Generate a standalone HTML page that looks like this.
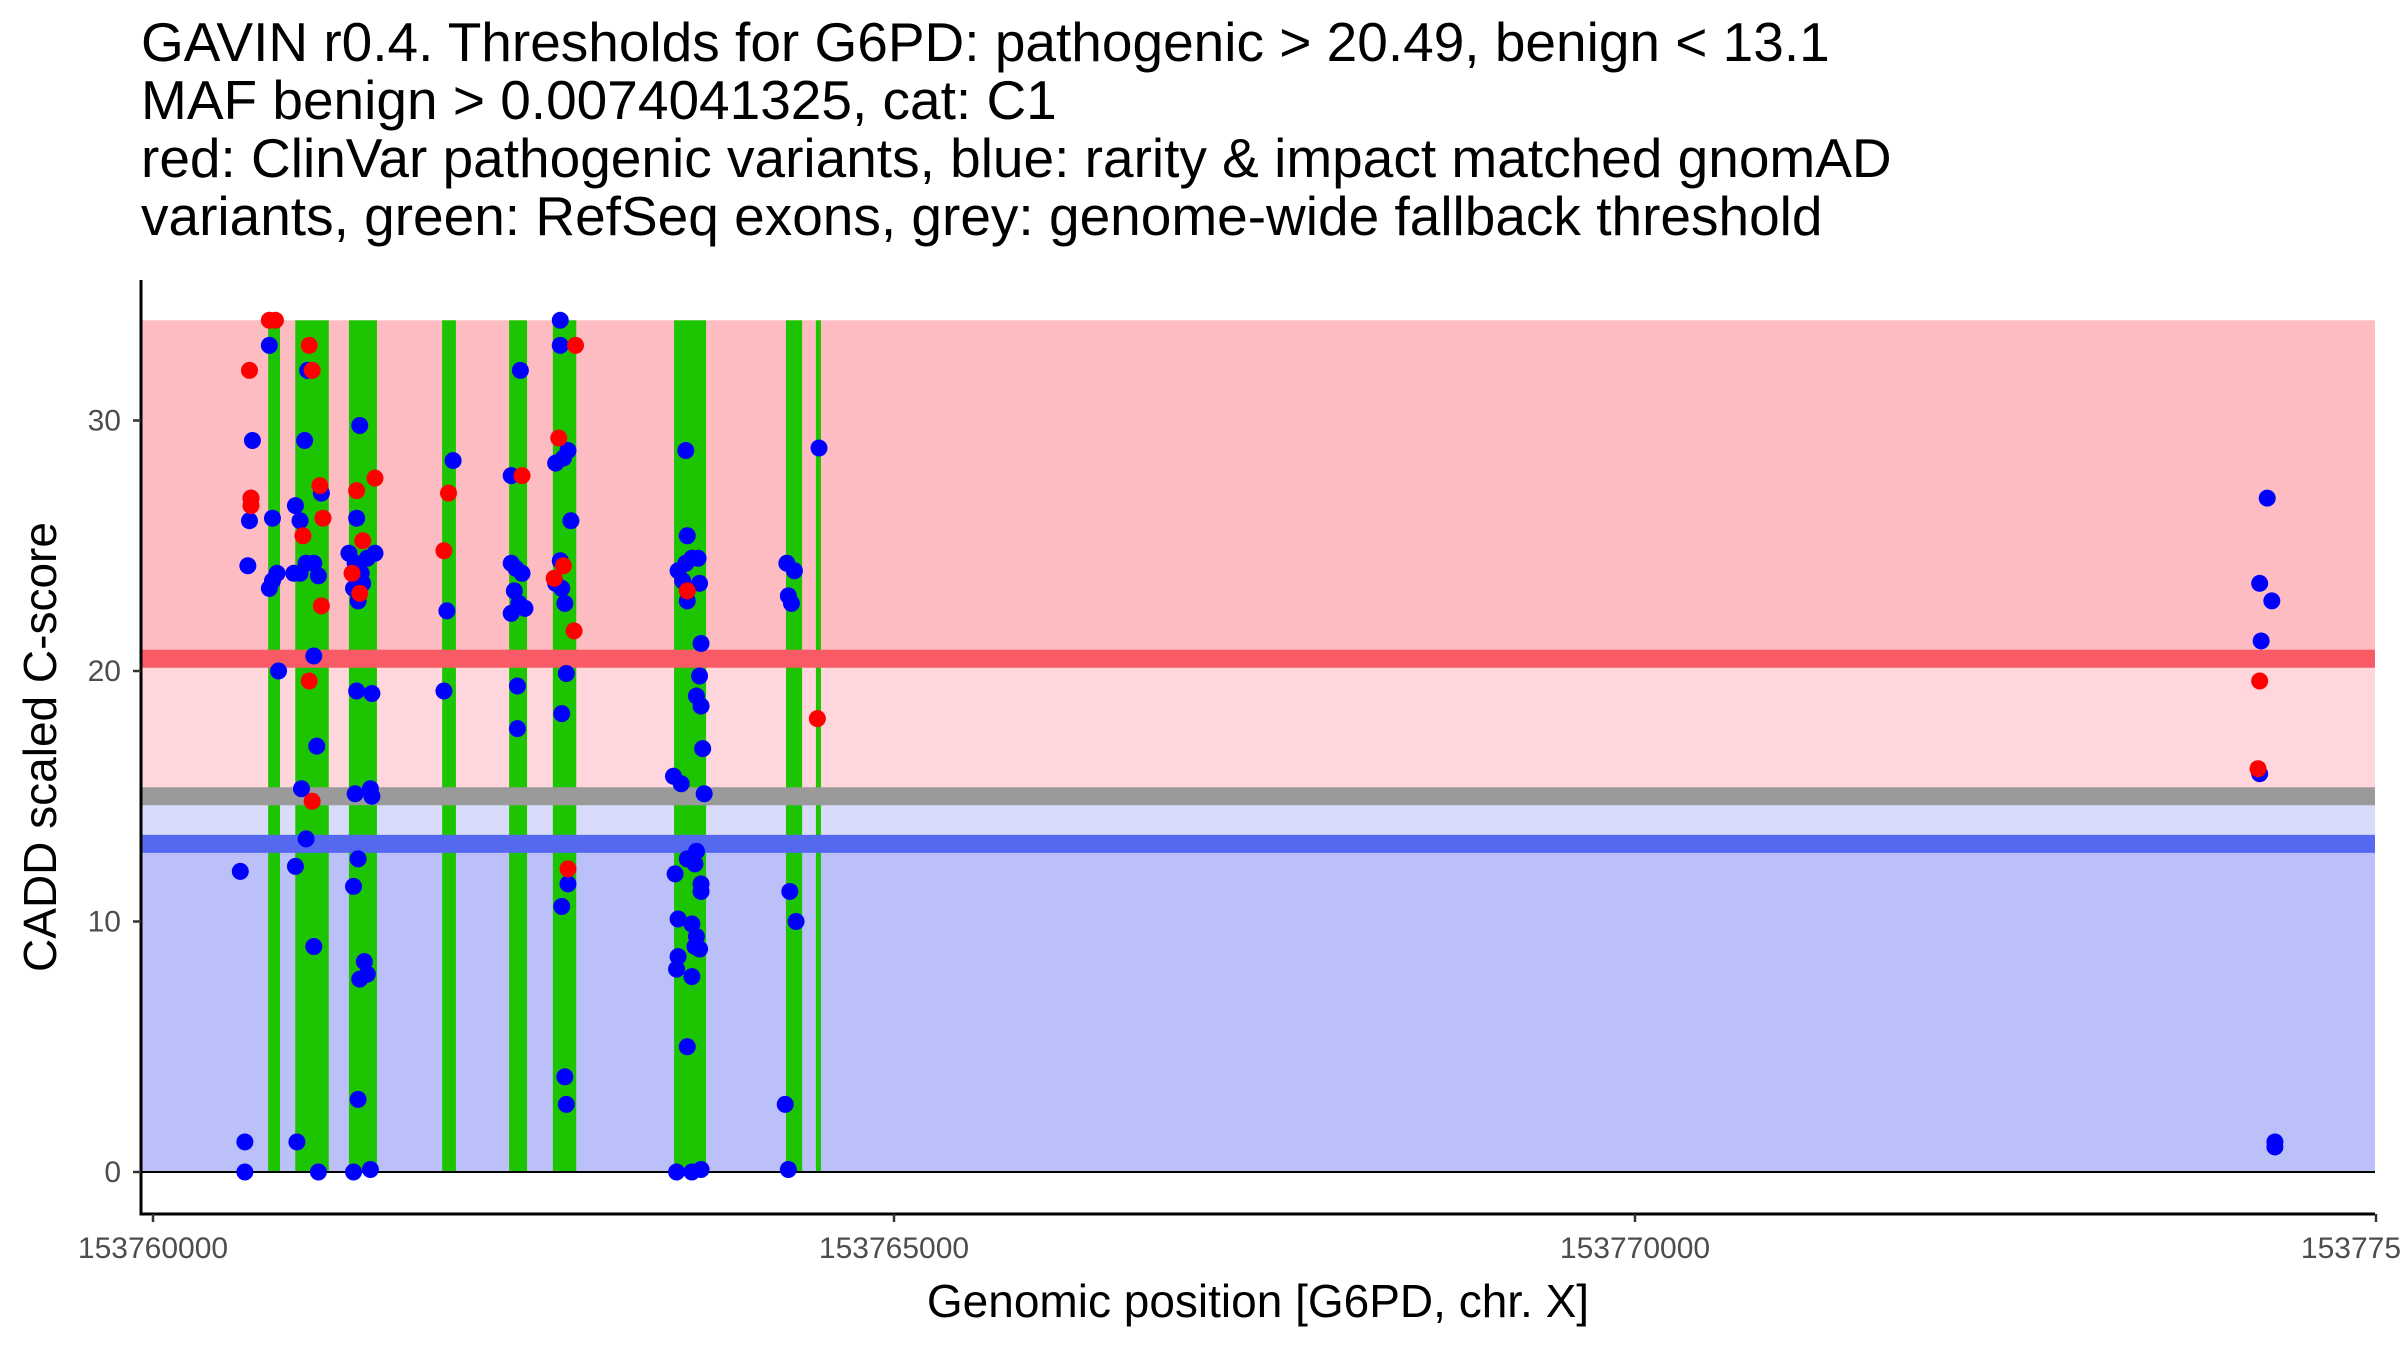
<!DOCTYPE html>
<html><head><meta charset="utf-8"><style>
html,body{margin:0;padding:0;background:#fff;width:2400px;height:1350px;overflow:hidden}
svg text{font-family:"Liberation Sans",Arial,sans-serif}
</style></head><body>
<svg id="chart" width="2400" height="1350" viewBox="0 0 2400 1350" xmlns="http://www.w3.org/2000/svg">
<g font-size="55" fill="#000">
<text x="141" y="61">GAVIN r0.4. Thresholds for G6PD: pathogenic &gt; 20.49, benign &lt; 13.1</text>
<text x="141" y="119">MAF benign &gt; 0.0074041325, cat: C1</text>
<text x="141" y="177">red: ClinVar pathogenic variants, blue: rarity &amp; impact matched gnomAD</text>
<text x="141" y="235">variants, green: RefSeq exons, grey: genome-wide fallback threshold</text>
</g>
<g id="bands"></g>
<g id="exons"></g>
<g id="lines"></g>
<g id="pts"></g>
<g id="axes"></g>
<text x="1258" y="1317" font-size="46" text-anchor="middle">Genomic position [G6PD, chr. X]</text>
<text transform="translate(56,747) rotate(-90)" font-size="46" text-anchor="middle">CADD scaled C-score</text>
</svg>
<script>
const BASE = 153760000;
const xTicks = [153760000, 153765000, 153770000, 153775000];
const xTickLabels = ["153760000", "153765000", "153770000", "153775000"];
const yTicks = [0, 10, 20, 30];
const pathoThreshold = 20.49;
const benignThreshold = 13.1;
const fallbackThreshold = 15;
const yMaxBand = 34;
const exonStarts = [777, 960, 1322, 1951, 2403, 2698, 3516, 4271, 4473];
const exonEnds = [857, 1186, 1511, 2044, 2524, 2856, 3732, 4380, 4507];
const bluePos = [589,651,671,640,661,620,620, 785,806,785,806,837,847,
 961,992,1023,1043,992,950,1033,1085,1116,1136,1085,1105,1002,1033,961,1085,971,1116,
 1395,1374,1322,1364,1446,1498,1405,1353,1384,1415,1374,1477,1364,1467,1477,1384,1353,1426,1395,1446,1384,1353,1467,
 2025,1983,1963, 2479,2417,2417,2448,2490,2438,2469,2417,2510,2459,2459,
 2748,2748,2800,2769,2717,2820,2748,2758,2717,2779,2789,2758,2800,2758,2779,2789,
 3595,3605,3595,3543,3574,3636,3678,3688,3605,3698,3688,3667,3698,3709,3512,3564,3719,3605,3667,3657,3523,3698,3698,3543,3636,3667,3657,3688,3543,3533,3636,3605,3533,3636,3698,
 4277,4328,4287,4308,4297,4339,4266,4287, 4494,
 14266,14215,14297,14225,14215,14318,14318];
const blueScore = [12.0,26.0,29.2,24.2,26.9,1.2,0, 33.0,26.1,23.3,23.6,23.9,20.0,
 26.6,26.0,29.2,32.0,23.9,23.9,24.3,24.3,23.8,27.1,20.6,17.0,15.3,13.3,12.2,9.0,1.2,0,
 29.8,26.1,24.7,24.3,24.5,24.7,23.9,23.3,22.8,23.5,19.2,19.1,15.1,15.3,15.0,12.5,11.4,8.4,7.7,7.9,2.9,0,0.1,
 28.4,22.4,19.2, 32.0,27.8,24.3,24.1,23.9,23.2,22.7,22.3,22.5,19.4,17.7,
 34,33,28.8,28.5,28.3,26.0,24.4,23.3,23.5,22.7,19.9,18.3,11.5,10.6,3.8,2.7,
 28.8,25.4,24.3,24.0,23.6,24.5,24.5,23.5,22.8,21.1,19.8,19.0,18.6,16.9,15.8,15.5,15.1,12.5,12.8,12.3,11.9,11.5,11.2,10.1,9.9,9.4,9.0,8.9,8.6,8.1,7.8,5.0,0,0,0.1,
 24.3,24.0,23.0,22.7,11.2,10.0,2.7,0.1, 28.9,
 26.9,23.5,22.8,21.2,15.9,1.2,1.0];
const redPos = [651,661,661, 785,826, 1054,1074,1126,1012,1147,1136,1054,1074,
 1374,1498,1343,1415,1395, 1994,1963, 2490, 2851,2738,2769,2707,2841,2800, 3605, 4483, 14215,14204];
const redScore = [32.0,26.9,26.6, 34,34, 33.0,32.0,27.4,25.4,26.1,22.6,19.6,14.8,
 27.2,27.7,23.9,25.2,23.1, 27.1,24.8, 27.8, 33.0,29.3,24.2,23.7,21.6,12.1, 23.2, 18.1, 19.6,16.1];

const NS = "http://www.w3.org/2000/svg";
const L = 141, R = 2375, T = 280, B = 1214;
function xs(off){ return 153 + off/5000*741; }
function ys(v){ return 1172 - v*25.05; }
function mk(parent, tag, attrs){
  const e = document.createElementNS(NS, tag);
  for (const k in attrs) e.setAttribute(k, attrs[k]);
  parent.appendChild(e); return e;
}
const bands = document.getElementById('bands');
let e;
e = mk(bands,'rect',{x:L,y:ys(yMaxBand),width:R-L,height:ys(pathoThreshold)-ys(yMaxBand),fill:'#fdbcc1'});


e = mk(bands,'rect',{x:L,y:ys(pathoThreshold),width:R-L,height:ys(fallbackThreshold)-ys(pathoThreshold),fill:'#fed6db'});


e = mk(bands,'rect',{x:L,y:ys(fallbackThreshold),width:R-L,height:ys(benignThreshold)-ys(fallbackThreshold),fill:'#d8dbfa'});


e = mk(bands,'rect',{x:L,y:ys(benignThreshold),width:R-L,height:ys(0)-ys(benignThreshold),fill:'#bbc0f9'});



const ex = document.getElementById('exons');
for (let i=0;i<exonStarts.length;i++){
  e = mk(ex,'rect',{x:xs(exonStarts[i]),y:ys(yMaxBand),width:xs(exonEnds[i])-xs(exonStarts[i]),height:ys(0)-ys(yMaxBand),fill:'#1dc400'});
  
  
}
const ln = document.getElementById('lines');
const thr = [[pathoThreshold,'#f85a66','pathogenic-threshold-line'],[fallbackThreshold,'#9a9a9a','fallback-threshold-line'],[benignThreshold,'#5468f0','benign-threshold-line']];
thr.forEach(t=>{
  e = mk(ln,'rect',{x:L,y:ys(t[0])-9,width:R-L,height:18,fill:t[1]});
  
  
});
e = mk(ln,'line',{x1:L,x2:R,y1:ys(0),y2:ys(0),stroke:'#000','stroke-width':2});



const pts = document.getElementById('pts');
for (let i=0;i<bluePos.length;i++){
  e = mk(pts,'circle',{cx:xs(bluePos[i]),cy:ys(blueScore[i]),r:8.5,fill:'#0000ff'});
  
  
}
for (let i=0;i<redPos.length;i++){
  e = mk(pts,'circle',{cx:xs(redPos[i]),cy:ys(redScore[i]),r:8.5,fill:'#ff0000'});
  
  
}

const ax = document.getElementById('axes');
e = mk(ax,'line',{x1:L,x2:L,y1:T,y2:B+1.5,stroke:'#000','stroke-width':3});


e = mk(ax,'line',{x1:L-1.5,x2:R,y1:B,y2:B,stroke:'#000','stroke-width':3});


yTicks.forEach(v=>{
  e = mk(ax,'line',{x1:L-8,x2:L,y1:ys(v),y2:ys(v),stroke:'#333','stroke-width':2.5});
  
  
  e = mk(ax,'text',{x:L-20,y:ys(v)+10,'font-size':30,'text-anchor':'end',fill:'#4d4d4d'});
  e.textContent = String(v);
  
  
});
xTicks.forEach((v,i)=>{
  const x = xs(v-BASE);
  e = mk(ax,'line',{x1:x,x2:x,y1:B,y2:B+8,stroke:'#333','stroke-width':2.5});
  
  
  e = mk(ax,'text',{x:x,y:B+44,'font-size':30,'text-anchor':'middle',fill:'#4d4d4d'});
  e.textContent = xTickLabels[i];
  
  
});
</script>
</body></html>
